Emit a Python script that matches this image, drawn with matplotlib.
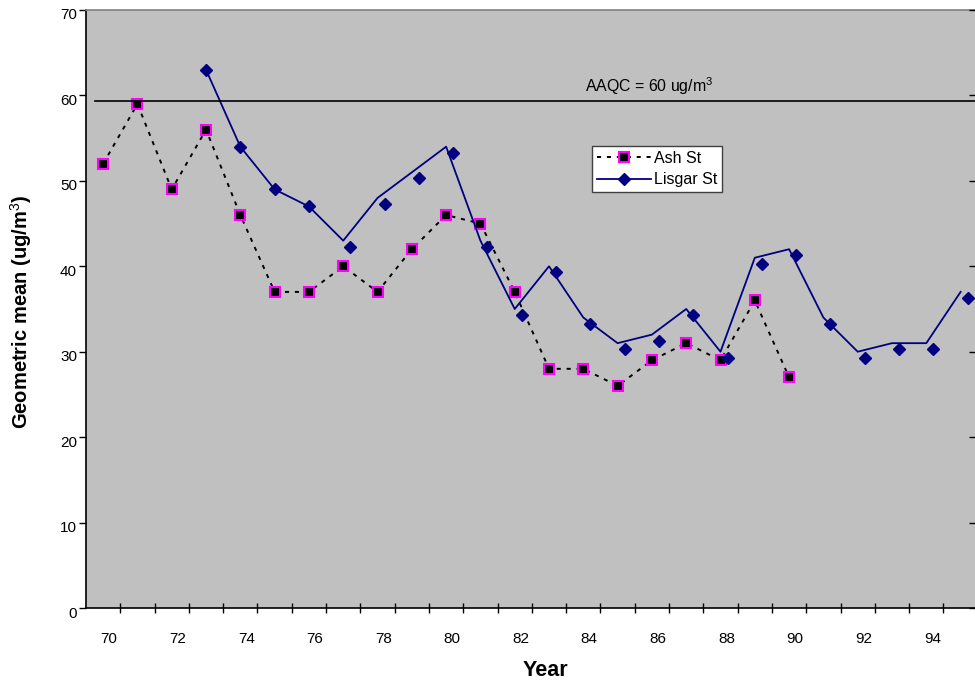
import matplotlib
matplotlib.use('Agg')
import matplotlib.pyplot as plt
import matplotlib.transforms as mtransforms

plt.rcParams['font.family'] = ['Liberation Sans', 'DejaVu Sans']
plt.rcParams['mathtext.fontset'] = 'custom'
plt.rcParams['mathtext.rm'] = 'Liberation Sans'

# data
ash_years = list(range(70, 91))
ash_vals = [52, 59, 49, 56, 46, 37, 37, 40, 37, 42, 46, 45, 37, 28, 28, 26, 29, 31, 29, 36, 27]
lisgar_years = list(range(73, 96))
lisgar_vals = [63, 54, 49, 47, 43, 48, 51, 54, 43, 35, 40, 34, 31, 32, 35, 30, 41, 42, 34, 30, 31, 31, 37]
year_labels = [str(y) for y in range(70, 96, 2)]
aaqc_line = 59.4

fig = plt.figure(figsize=(9.75, 6.81), dpi=100)
fig.patch.set_facecolor('white')
ax = fig.add_axes([86 / 975, 73 / 681, 889 / 975, 598 / 681])
ax.set_facecolor('#c0c0c0')

# Ash St
ax.plot(ash_years, ash_vals, color='black', lw=1.4, ls=(0, (2.1, 3.0)),
        marker='s', ms=7.2, mfc='black', mec='#ff00ff', mew=1.5, label='Ash St')

# Lisgar St: line, markers (markers after 76 are drawn slightly offset in the original)
ax.plot(lisgar_years, lisgar_vals, color='#000080', lw=1.3)
ax.plot(lisgar_years[:4], lisgar_vals[:4], ls='none', marker='D', ms=6.5, color='#000080')
shift = mtransforms.offset_copy(ax.transData, fig=fig, x=7, y=-6, units='dots')
ax.plot(lisgar_years[4:], lisgar_vals[4:], ls='none', marker='D', ms=6.5,
        color='#000080', transform=shift)
ax.plot([], [], color='#000080', lw=1.3, marker='D', ms=6.5, label='Lisgar St')

ax.axhline(aaqc_line, xmin=0.01, xmax=1, color='black', lw=1.2)
ax.text(84.05, aaqc_line + 0.4, 'AAQC = 60 ug/m$^3$', fontsize=11.4, va='bottom', ha='left')

ax.set_xlim(69.5, 95.42)
ax.set_ylim(0, 70)

# axes styling
for s in ['left', 'bottom']:
    ax.spines[s].set_color('black')
    ax.spines[s].set_linewidth(1.2)
ax.spines['top'].set_color('#808080')
ax.spines['top'].set_linewidth(1.2)
ax.spines['right'].set_visible(False)

ax.set_yticks(range(0, 71, 10))
ax.tick_params(axis='y', direction='out', length=5, width=1, labelsize=11, pad=1.5)
ytoff = mtransforms.ScaledTranslation(0, -4 / 100, fig.dpi_scale_trans)
for lbl in ax.get_yticklabels():
    lbl.set_transform(lbl.get_transform() + ytoff)

ax.set_xticks([y + 0.5 for y in range(70, 95)])
ax.set_xticklabels([])
ax.tick_params(axis='x', which='major', direction='inout', length=7, width=1)
ax.set_xticks(list(range(70, 96, 2)), minor=True)
ax.set_xticklabels(year_labels, minor=True)
ax.tick_params(axis='x', which='minor', length=0, labelsize=11, pad=17)
xtoff = mtransforms.ScaledTranslation(6 / 100, 0, fig.dpi_scale_trans)
for lbl in ax.xaxis.get_minorticklabels():
    lbl.set_transform(lbl.get_transform() + xtoff)

# right-hand tick marks
ax2 = ax.twinx()
ax2.set_ylim(0, 70)
ax2.set_yticks(range(0, 71, 10))
ax2.set_yticklabels([])
ax2.tick_params(axis='y', direction='in', length=4, width=1)
for s in ax2.spines.values():
    s.set_visible(False)

leg = ax.legend(loc='upper left', bbox_to_anchor=((592 - 86) / 889, (608 - 146) / 598),
                fontsize=11.5, frameon=True, fancybox=False, framealpha=1,
                handlelength=3.4, handletextpad=0.2, labelspacing=0.4,
                borderpad=0.3, borderaxespad=0)
leg.get_frame().set_edgecolor('#404040')
leg.get_frame().set_linewidth(1)

fig.text(545 / 975, 1 - 670 / 681, 'Year', fontsize=15.5, fontweight='bold',
         ha='center', va='center')
fig.text(21 / 975, 1 - 312 / 681, 'Geometric mean (ug/m$^3$)', fontsize=14.5,
         fontweight='bold', rotation=90, ha='center', va='center')

fig.savefig('out.png', dpi=100)
